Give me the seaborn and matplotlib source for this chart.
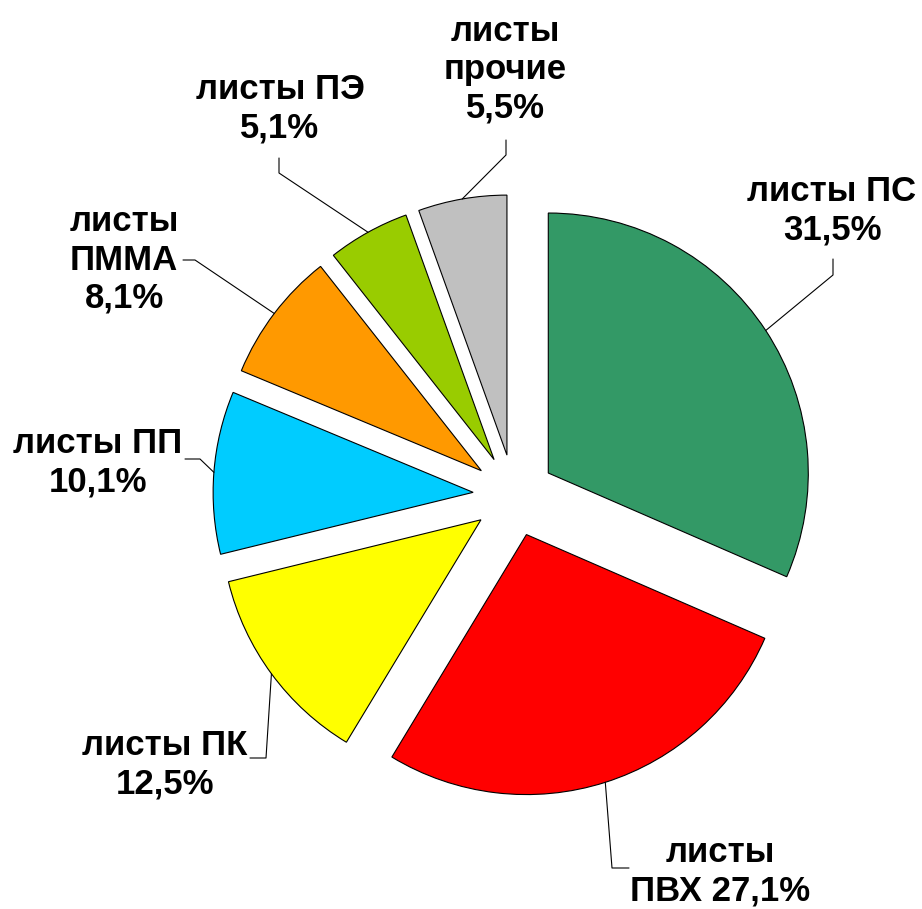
import numpy as np
import matplotlib
matplotlib.use("Agg")
import matplotlib.pyplot as plt
import seaborn as sns

# --- DATI ---
labels = ["листы ПС\n31,5%", "листы\nПВХ 27,1%", "листы ПК\n12,5%", "листы ПП\n10,1%",
          "листы\nПММА\n8,1%", "листы ПЭ\n5,1%", "листы\nпрочие\n5,5%"]
shares = [31.5, 27.1, 12.5, 10.1, 8.1, 5.1, 5.5]
colors = ["#339966", "#FF0000", "#FFFF00", "#00CCFF", "#FF9900", "#99CC00", "#C0C0C0"]

# --- LAYOUT (pixel, y verso il basso) ---
W, H = 922, 909
CENTER = (514, H - 495.5)
RADIUS = 260
EXPLODE = 41
# gomito della linea guida, fine della linea, centro del testo
elbows = [(833, 275), (612, 868), (266, 758), (200, 459), (195, 260), (279, 173), (506, 155)]
ends = [(833, 259), (629, 868), (250, 758), (185, 459), (183, 260), (279, 158), (506, 140)]
text_pos = [(832, 211), (720, 872), (165, 765), (98, 463), (124, 260), (280, 109), (505, 70)]

sns.set_theme(style="white")
plt.rcParams['font.family'] = ['Liberation Sans', 'DejaVu Sans']

fig = plt.figure(figsize=(W / 100, H / 100), dpi=100)
ax = fig.add_axes([0, 0, 1, 1])

wedges, _ = ax.pie(shares, colors=colors, startangle=90, counterclock=False,
                   radius=RADIUS, center=CENTER, explode=[EXPLODE] * len(shares),
                   wedgeprops=dict(edgecolor="black", linewidth=0.8))

# --- ETICHETTE CON LINEE GUIDA ---
for w, lab, el, en, tp in zip(wedges, labels, elbows, ends, text_pos):
    mid = np.deg2rad((w.theta1 + w.theta2) / 2)
    x0 = w.center[0] + w.r * np.cos(mid)
    y0 = w.center[1] + w.r * np.sin(mid)
    ax.plot([x0, el[0], en[0]], [y0, H - el[1], H - en[1]], color="black", linewidth=0.8)
    ax.text(tp[0], H - tp[1], lab, ha="center", va="center", multialignment="center",
            fontsize=25, fontweight="bold", linespacing=1.2, color="black")

ax.set_xlim(0, W)
ax.set_ylim(0, H)
ax.set_aspect("equal")
ax.axis("off")

fig.savefig("out.png", dpi=100, facecolor="white")
